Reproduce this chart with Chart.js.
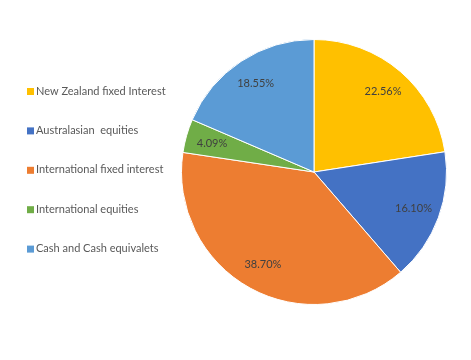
<!DOCTYPE html>
<html>
<head>
<meta charset="utf-8">
<script src="https://cdn.jsdelivr.net/npm/chart.js@4"></script>
<style>
  html, body { margin: 0; padding: 0; background: #fff; }
  #wrap { width: 471px; height: 360px; }
</style>
</head>
<body>
<div id="wrap"><canvas id="pieChart" width="471" height="360"></canvas></div>
<script>
const categories = [
  "New Zealand fixed Interest",
  "Australasian  equities",
  "International fixed interest",
  "International equities",
  "Cash and Cash equivalets"
];
const shares = [22.56, 16.10, 38.70, 4.09, 18.55];
const sliceColors = ["#FFC000", "#4472C4", "#ED7D31", "#70AD47", "#5B9BD5"];

const FONT = "Lato, 'Open Sans', sans-serif";

// percent labels inside each slice
const sliceLabels = {
  id: "sliceLabels",
  afterDatasetsDraw(chart) {
    const ctx = chart.ctx;
    const meta = chart.getDatasetMeta(0);
    ctx.save();
    ctx.font = "11px " + FONT;
    ctx.fillStyle = "#404040";
    ctx.textAlign = "center";
    ctx.textBaseline = "middle";
    meta.data.forEach(function (arc, i) {
      const p = arc.getProps(["x", "y", "startAngle", "endAngle", "outerRadius"], true);
      const mid = (p.startAngle + p.endAngle) / 2;
      const r = p.outerRadius * 0.8;
      ctx.fillText(shares[i].toFixed(2) + "%", p.x + Math.cos(mid) * r, p.y + Math.sin(mid) * r);
    });
    ctx.restore();
  }
};

// legend on the left, one item every ~39.5px
const sideLegend = {
  id: "sideLegend",
  afterDraw(chart) {
    const ctx = chart.ctx;
    ctx.save();
    ctx.font = "11px " + FONT;
    ctx.textBaseline = "middle";
    categories.forEach(function (name, i) {
      const y = 91 + i * 39.4;
      ctx.fillStyle = sliceColors[i];
      ctx.fillRect(27, y - 3, 7, 7);
      ctx.fillStyle = "#595959";
      ctx.fillText(name, 36, y);
    });
    ctx.restore();
  }
};

new Chart(document.getElementById("pieChart").getContext("2d"), {
  type: "pie",
  data: {
    labels: categories,
    datasets: [{
      data: shares,
      backgroundColor: sliceColors,
      borderColor: "#ffffff",
      borderWidth: 1
    }]
  },
  options: {
    responsive: false,
    animation: false,
    layout: { padding: { top: 39, bottom: 55, left: 181, right: 24 } },
    plugins: {
      legend: { display: false },
      tooltip: { enabled: false }
    }
  },
  plugins: [sliceLabels, sideLegend]
});
</script>
</body>
</html>
